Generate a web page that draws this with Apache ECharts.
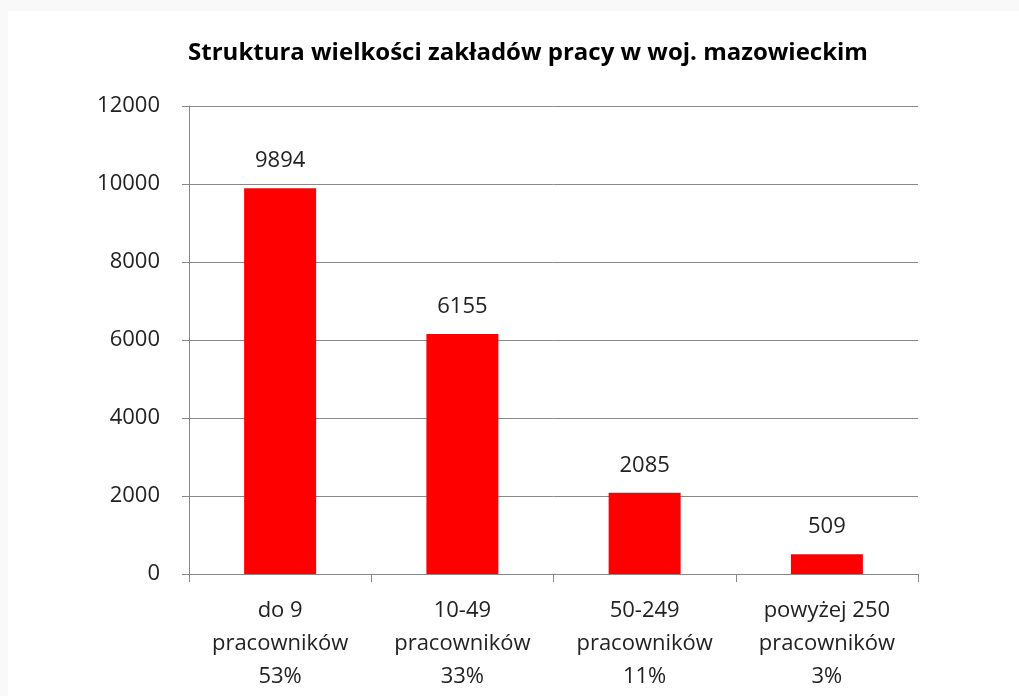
<!DOCTYPE html>
<html>
<head>
<meta charset="utf-8">
<script src="https://cdn.jsdelivr.net/npm/echarts@6/dist/echarts.min.js"></script>
<style>
  html, body { margin: 0; padding: 0; background: #f9f9f9; }
  #chart { position: absolute; left: 8px; top: 11px; width: 1011px; height: 685px; background: #fff; }
</style>
</head>
<body>
<div id="chart"></div>
<script>
// dane
var categories = ["do 9\npracowników\n53%", "10-49\npracowników\n33%", "50-249\npracowników\n11%", "powyżej 250\npracowników\n3%"];
var values = [9894, 6155, 2085, 509];
var yTicks = [0, 2000, 4000, 6000, 8000, 10000, 12000];

var chart = echarts.init(document.getElementById("chart"));
var font = "'Open Sans', 'Noto Sans', sans-serif";
var option = {
  animation: false,
  title: {
    text: "Struktura wielkości zakładów pracy w woj. mazowieckim",
    left: 515,
    textAlign: "center",
    top: 25,
    textStyle: { fontFamily: font, fontSize: 24, fontWeight: "bold", color: "#000" }
  },
  grid: { left: 181, right: 101, top: 95, bottom: 122 },
  xAxis: {
    type: "category",
    data: categories,
    axisLine: { lineStyle: { color: "#888", width: 1 } },
    axisTick: { show: true, length: 8, lineStyle: { color: "#888" } },
    axisLabel: { fontFamily: font, fontSize: 22, color: "#222", lineHeight: 33, margin: 20 }
  },
  yAxis: {
    type: "value",
    min: yTicks[0],
    max: yTicks[yTicks.length - 1],
    interval: 2000,
    axisLine: { show: true, lineStyle: { color: "#888", width: 1 } },
    axisTick: { show: true, length: 7, lineStyle: { color: "#888" } },
    splitLine: { lineStyle: { color: "#888", width: 1 } },
    axisLabel: { fontFamily: font, fontSize: 22, color: "#222", margin: 29, formatter: function (v) { return String(v); } }
  },
  series: [
    {
      type: "bar",
      data: values,
      barWidth: 72,
      itemStyle: { color: "#ff0000" },
      label: {
        show: true,
        position: "top",
        distance: 16,
        fontFamily: font,
        fontSize: 22,
        color: "#222"
      }
    }
  ]
};
chart.setOption(option);
</script>
</body>
</html>
